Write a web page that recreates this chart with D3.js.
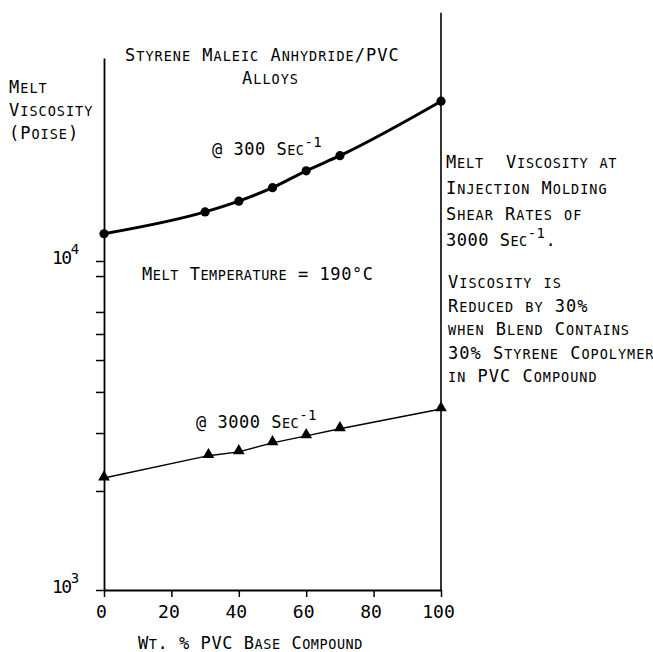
<!DOCTYPE html>
<html>
<head>
<meta charset="utf-8">
<script src="https://cdn.jsdelivr.net/npm/d3@7"></script>
<style>
  html, body { margin: 0; padding: 0; background: #fff; }
  svg { display: block; }
  text { white-space: pre; }
</style>
</head>
<body>
<svg id="chart" width="653" height="652"></svg>
<script>
// Melt viscosity of styrene maleic anhydride / PVC alloys, log scale.
const pvc300 = [0, 30, 40, 50, 60, 70, 100];
const visc300 = [12100, 14100, 15200, 16700, 18800, 20900, 30600];
const pvc3000 = [0, 31, 40, 50, 60, 70, 100];
const visc3000 = [2190, 2560, 2630, 2800, 2940, 3090, 3550];
const xTicks = [0, 20, 40, 60, 80, 100];
const yTicks = [1000, 2000, 3000, 4000, 5000, 6000, 7000, 9000, 10000];
const yMajor = [{ v: 1000, base: "10", exp: "3" }, { v: 10000, base: "10", exp: "4" }];

const FONT = "'DejaVu Sans Mono', monospace";
const BIG = 17, SMALL = 13.5, SUP = 14;

const svg = d3.select("#chart");

const x = d3.scaleLinear().domain([0, 100]).range([104, 441]);
// one decade spans 329 px; the left axis runs up to about 4.1e4
const y = d3.scaleLog().domain([1000, 41400]).range([590, 58]);

// axes
const gx = svg.append("g").attr("transform", "translate(0,590)")
  .call(d3.axisBottom(x).tickValues(xTicks).tickSize(7).tickSizeOuter(0).tickPadding(8));
gx.selectAll("text").attr("font-family", FONT).attr("font-size", 18).attr("fill", "#000").attr("dx", -3);

const gy = svg.append("g").attr("transform", "translate(104,0)")
  .call(d3.axisLeft(y).tickValues(yTicks).tickSize(8).tickSizeOuter(0).tickFormat(""));

[gx, gy].forEach(g => {
  g.select(".domain").attr("stroke", "#000").attr("stroke-width", 1.8);
  g.selectAll(".tick line").attr("stroke", "#000").attr("stroke-width", 1.5);
});

// right-hand boundary at 100 %
svg.append("line")
  .attr("x1", x(100)).attr("x2", x(100))
  .attr("y1", y(1000)).attr("y2", y(56800))
  .attr("stroke", "#000").attr("stroke-width", 1.6);

// decade labels
yMajor.forEach(d => {
  const t = svg.append("text").attr("font-family", FONT).attr("fill", "#000")
    .attr("x", 52).attr("y", y(d.v) + 3);
  t.append("tspan").attr("font-size", 18).attr("letter-spacing", -1.5).text(d.base);
  t.append("tspan").attr("font-size", SUP).attr("dy", -10).text(d.exp);
});

// small-caps lettering: lower case letters become smaller capitals
function lettering(px, py, parts, ls) {
  const t = svg.append("text").attr("x", px).attr("y", py)
    .attr("font-family", FONT).attr("fill", "#000")
    .attr("letter-spacing", ls == null ? 1 : ls);
  let shift = 0;
  parts.forEach(p => {
    if (p.sup) {
      t.append("tspan").attr("font-size", SUP).attr("dy", -8 - shift).text(p.t);
      shift = -8;
      return;
    }
    const runs = p.t.match(/[a-z]+|[^a-z]+/g) || [];
    runs.forEach((r, i) => {
      const lower = /^[a-z]/.test(r);
      const ts = t.append("tspan").attr("font-size", lower ? SMALL : BIG)
        .text(lower ? r.toUpperCase() : r);
      if (i === 0 && shift !== 0) { ts.attr("dy", -shift); shift = 0; }
    });
  });
  return t;
}

lettering(125, 61, [{ t: "Styrene Maleic Anhydride/PVC" }]);
lettering(242, 84, [{ t: "Alloys" }]);
lettering(9, 93, [{ t: "Melt" }]);
lettering(9, 116, [{ t: "Viscosity" }]);
lettering(9, 139, [{ t: "(Poise)" }]);
lettering(212, 155, [{ t: "@ 300 Sec" }, { t: "-1", sup: true }], 0.5);
lettering(142, 280, [{ t: "Melt Temperature = 190°C" }], 0.55);
lettering(196, 428, [{ t: "@ 3000 Sec" }, { t: "-1", sup: true }], 0.5);

const notes1 = ["Melt  Viscosity at", "Injection Molding", "Shear Rates of"];
notes1.forEach((s, i) => lettering(446, 168 + i * 26, [{ t: s }], i === 0 ? 0.8 : 1));
lettering(446, 246, [{ t: "3000 Sec" }, { t: "-1", sup: true }, { t: "." }], 0.5);

const notes2 = ["Viscosity is", "Reduced by 30%", "when Blend Contains", "30% Styrene Copolymer", "in PVC Compound"];
notes2.forEach((s, i) => lettering(448, 288 + i * 23.5, [{ t: s }]));

lettering(138, 649, [{ t: "Wt. % PVC Base Compound" }], 0.55);

// 300 s^-1 series
const pts300 = pvc300.map((v, i) => [v, visc300[i]]);
svg.append("path")
  .attr("d", d3.line().x(d => x(d[0])).y(d => y(d[1])).curve(d3.curveMonotoneX)(pts300))
  .attr("fill", "none").attr("stroke", "#000").attr("stroke-width", 3);
svg.selectAll("circle.p300").data(pts300).join("circle")
  .attr("class", "p300")
  .attr("cx", d => x(d[0])).attr("cy", d => y(d[1])).attr("r", 4.6)
  .attr("fill", "#000");

// 3000 s^-1 series
const pts3000 = pvc3000.map((v, i) => [v, visc3000[i]]);
svg.append("path")
  .attr("d", d3.line().x(d => x(d[0])).y(d => y(d[1]))(pts3000))
  .attr("fill", "none").attr("stroke", "#000").attr("stroke-width", 1.4);
const tri = d3.symbol().type(d3.symbolTriangle).size(60);
svg.selectAll("path.p3000").data(pts3000).join("path")
  .attr("class", "p3000")
  .attr("transform", d => `translate(${x(d[0])},${y(d[1]) - 1})`)
  .attr("d", tri).attr("fill", "#000");
</script>
</body>
</html>
